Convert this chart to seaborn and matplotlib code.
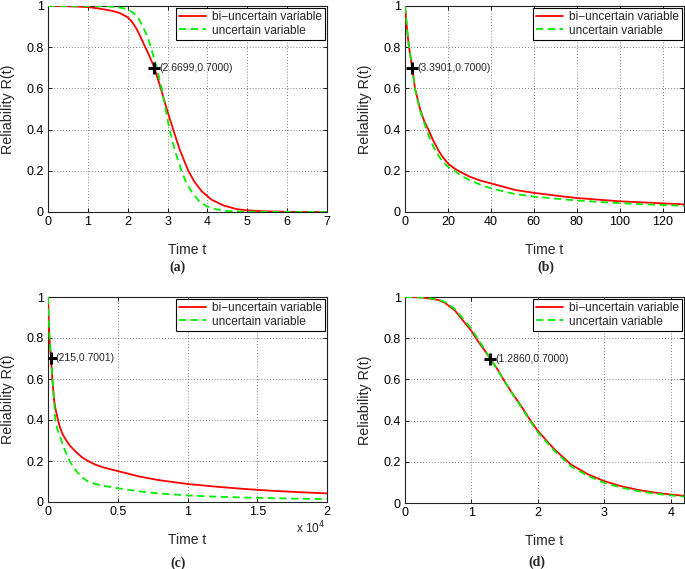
import matplotlib
matplotlib.use("Agg")
import matplotlib.pyplot as plt
import seaborn as sns
import pandas as pd

sns.set_theme(style="ticks")
plt.rcParams["font.family"] = ["Liberation Sans", "DejaVu Sans"]

# ---- data (t, R(t)) ----
# (a)
a_t_bi = [0, 0.5, 1.0, 1.3, 1.6, 1.8, 2.0, 2.1, 2.22, 2.31, 2.44, 2.55, 2.6699, 2.83, 2.98,
          3.14, 3.31, 3.52, 3.68, 3.86, 4.1, 4.4, 4.73, 5.0, 5.5, 6.0, 7.0]
a_r_bi = [1.0, 0.999, 0.995, 0.987, 0.977, 0.966, 0.945, 0.925, 0.89, 0.855, 0.80, 0.755,
          0.70, 0.60, 0.50, 0.40, 0.30, 0.20, 0.145, 0.10, 0.06, 0.032, 0.014, 0.008, 0.003,
          0.001, 0.0]
a_t_un = [0, 1.0, 1.5, 1.8, 2.0, 2.15, 2.27, 2.39, 2.5, 2.58, 2.73, 2.85, 2.95, 3.05, 3.18,
          3.35, 3.47, 3.6, 3.8, 3.98, 4.2, 4.48, 5.0, 7.0]
a_r_un = [1.0, 1.0, 0.998, 0.992, 0.985, 0.965, 0.94, 0.895, 0.85, 0.80, 0.70, 0.60, 0.50,
          0.40, 0.30, 0.20, 0.14, 0.10, 0.05, 0.028, 0.014, 0.005, 0.001, 0.0]

# (b)
b_t_bi = [0, 1, 1.86, 3.3901, 4.66, 7.0, 9.0, 10.9, 13.0, 15.5, 17.5, 20, 22.5, 24.8, 30,
          35, 40, 51.3, 60, 70, 80, 90, 100, 110, 120, 130]
b_r_bi = [1.0, 0.88, 0.80, 0.70, 0.60, 0.50, 0.44, 0.40, 0.35, 0.30, 0.268, 0.236, 0.215,
          0.20, 0.172, 0.153, 0.139, 0.107, 0.093, 0.08, 0.068, 0.06, 0.052, 0.047, 0.042,
          0.037]
b_t_un = [0, 1, 1.9, 3.3901, 4.6, 6.8, 8.5, 10.1, 12.0, 14.0, 17.0, 20, 23, 26.5, 30, 35,
          40, 51.3, 60, 70, 80, 90, 100, 110, 120, 130]
b_r_un = [1.0, 0.89, 0.80, 0.70, 0.60, 0.50, 0.445, 0.40, 0.345, 0.30, 0.252, 0.22, 0.20,
          0.175, 0.155, 0.133, 0.115, 0.087, 0.075, 0.065, 0.056, 0.049, 0.043, 0.038, 0.034,
          0.03]

# (c)
c_t_bi = [0, 50, 100, 215, 310, 430, 550, 717, 850, 1000, 1150, 1314, 1600, 2000, 2400,
          2867, 3400, 4000, 5000, 6500, 7900, 10000, 12000, 14000, 16000, 18000, 20000]
c_r_bi = [1.0, 0.88, 0.80, 0.70, 0.60, 0.50, 0.45, 0.40, 0.365, 0.338, 0.318, 0.30, 0.272,
          0.245, 0.22, 0.20, 0.182, 0.168, 0.151, 0.125, 0.107, 0.088, 0.075, 0.064, 0.055,
          0.048, 0.042]
c_t_un = [0, 50, 100, 215, 300, 430, 526, 650, 800, 956, 1250, 1553, 1800, 2100, 2450, 2867,
          3400, 4000, 5000, 6500, 7900, 10000, 12000, 14000, 16000, 18000, 20000]
c_r_un = [1.0, 0.90, 0.82, 0.71, 0.62, 0.50, 0.40, 0.36, 0.33, 0.30, 0.245, 0.20, 0.173,
          0.145, 0.12, 0.10, 0.088, 0.079, 0.067, 0.052, 0.042, 0.032, 0.026, 0.022, 0.019,
          0.016, 0.014]

# (d)
d_t = [0, 0.25, 0.5, 0.6, 0.75, 0.9, 1.0, 1.1, 1.2, 1.286, 1.4, 1.5, 1.6, 1.75, 1.9, 2.0,
       2.25, 2.5, 2.75, 3.0, 3.25, 3.5, 3.75, 4.0, 4.2]
d_r_bi = [1.0, 0.998, 0.986, 0.972, 0.935, 0.875, 0.835, 0.785, 0.74, 0.70, 0.645, 0.59,
          0.54, 0.47, 0.395, 0.35, 0.26, 0.187, 0.14, 0.106, 0.082, 0.064, 0.051, 0.041, 0.035]
d_r_un = [1.0, 0.998, 0.988, 0.976, 0.942, 0.885, 0.845, 0.795, 0.745, 0.70, 0.643, 0.59,
          0.538, 0.465, 0.39, 0.343, 0.253, 0.178, 0.132, 0.098, 0.075, 0.058, 0.046, 0.037,
          0.031]

# marked points
marks = [(2.6699, 0.7000, "(2.6699,0.7000)"),
         (3.3901, 0.7000, "(3.3901,0.7000)"),
         (215, 0.7001, "(215,0.7001)"),
         (1.2860, 0.7000, "(1.2860,0.7000)")]

panels = [
    (a_t_bi, a_r_bi, a_t_un, a_r_un),
    (b_t_bi, b_r_bi, b_t_un, b_r_un),
    (c_t_bi, c_r_bi, c_t_un, c_r_un),
    (d_t, d_r_bi, d_t, d_r_un),
]
xlims = [(0, 7), (0, 130), (0, 20000), (0, 4.2)]
xticks = [[0, 1, 2, 3, 4, 5, 6, 7],
          [0, 20, 40, 60, 80, 100, 120],
          [0, 5000, 10000, 15000, 20000],
          [0, 1, 2, 3, 4]]
xticklabels = [None, None, ["0", "0.5", "1", "1.5", "2"], None]
yticks = [0, 0.2, 0.4, 0.6, 0.8, 1.0]
yticklabels = ["0", "0.2", "0.4", "0.6", "0.8", "1"]
tags = ["(a)", "(b)", "(c)", "(d)"]

W, H = 685, 569
fig = plt.figure(figsize=(W / 100, H / 100), dpi=100)

# axes rectangles in pixels: left, top, right, bottom
rects = [(48, 6, 327, 212), (405, 6, 684, 212), (48, 297, 327, 502), (405, 297, 684, 503)]
tag_pos = [(178, 267), (546, 267), (178, 563), (537, 562)]

for i, (tb, rb, tu, ru) in enumerate(panels):
    l, t, r, b = rects[i]
    ax = fig.add_axes([l / W, 1 - b / H, (r - l) / W, (b - t) / H])
    df_bi = pd.DataFrame({"t": tb, "R": rb})
    df_un = pd.DataFrame({"t": tu, "R": ru})
    sns.lineplot(data=df_bi, x="t", y="R", ax=ax, color="#ff0000", lw=1.3,
                 label="bi\u2212uncertain variable", zorder=3)
    sns.lineplot(data=df_un, x="t", y="R", ax=ax, color="#00ee00", lw=1.3,
                 label="uncertain variable", zorder=4)
    ax.lines[1].set_dashes((4, 2.5))

    mx, my, mtxt = marks[i]
    ax.plot([mx], [my], marker="+", color="black", ms=8, mew=2.2, zorder=6)
    ax.annotate(mtxt, (mx, my), xytext=(3.5, 0), textcoords="offset points",
                fontsize=7.5, va="center", ha="left", zorder=6)

    ax.set_xlim(*xlims[i])
    ax.set_ylim(0, 1)
    ax.set_xticks(xticks[i])
    if xticklabels[i] is not None:
        ax.set_xticklabels(xticklabels[i])
    ax.set_yticks(yticks)
    ax.set_yticklabels(yticklabels)
    ax.tick_params(direction="in", length=3, width=0.6, labelsize=9, pad=3,
                   top=True, right=True, colors="black")
    ax.grid(True, linestyle=(0, (1, 2.5)), color="#555555", lw=0.6)
    for s in ax.spines.values():
        s.set_color("#222222")
        s.set_linewidth(0.8)

    ax.set_xlabel("Time t", fontsize=10)
    ax.set_ylabel("Reliability R(t)", fontsize=10.3)
    ax.xaxis.set_label_coords(0.5, -0.15)
    ax.yaxis.set_label_coords(-0.12, 0.5)

    leg = ax.legend(loc="upper right", fontsize=8.6, frameon=True, fancybox=False,
                    framealpha=1, edgecolor="black", borderaxespad=0.15,
                    handlelength=2.3, handletextpad=0.5, labelspacing=0.15,
                    borderpad=0.25)
    leg.get_frame().set_linewidth(0.8)

    fig.text(tag_pos[i][0] / W, 1 - tag_pos[i][1] / H, tags[i], ha="center", va="center",
             fontsize=10, fontweight="bold", family=["Liberation Serif", "DejaVu Serif"])

    if i == 2:
        fig.text(311 / W, 1 - 528 / H, r"x 10$^4$", ha="center", va="center", fontsize=8.5)

fig.savefig("out.png", dpi=100)
